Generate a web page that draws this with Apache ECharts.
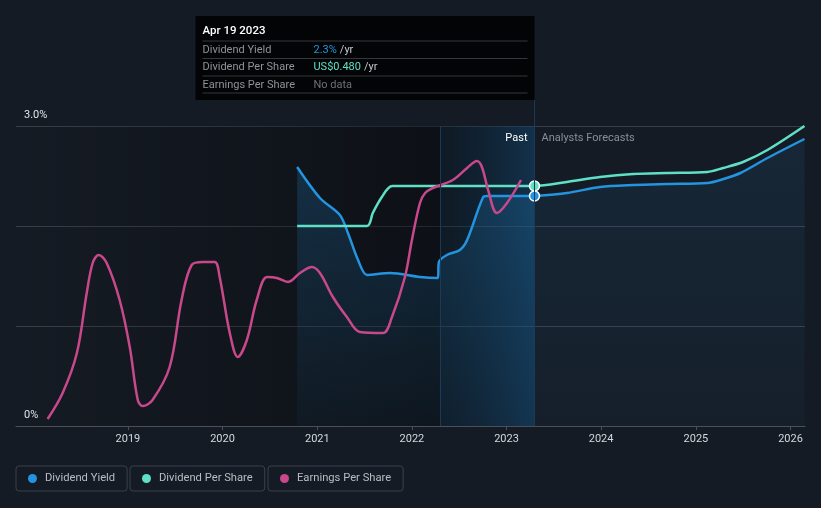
<!DOCTYPE html>
<html>
<head>
<meta charset="utf-8">
<script src="https://cdn.jsdelivr.net/npm/echarts@6/dist/echarts.min.js"></script>
<style>
  html, body { margin: 0; padding: 0; background: #151b24; }
  #chart { width: 821px; height: 508px; }
</style>
</head>
<body>
<div id="chart"></div>
<script>
// x range and markers
const xMin = '2017-10-26';
const xMax = '2026-02-26';
const todayDate = '2023-04-19';
const highlightStart = '2022-04-19';
const yearTicks = ['2019-01-01', '2020-01-01', '2021-01-01', '2022-01-01', '2023-01-01', '2024-01-01', '2025-01-01', '2026-01-01'];

// Dividend Yield (%), past
const dyPastDates = ['2020-10-15', '2021-01-11', '2021-03-29', '2021-04-29', '2021-06-07', '2021-07-12', '2021-10-09',
  '2022-02-01', '2022-04-11', '2022-04-15', '2022-05-16', '2022-07-05', '2022-08-02', '2022-10-03', '2022-10-18', '2023-04-19'];
const dyPastValues = [2.59, 2.28, 2.11, 1.93, 1.66, 1.51, 1.53, 1.49, 1.48, 1.64, 1.71, 1.76, 1.86, 2.29, 2.30, 2.30];

// Dividend Yield (%), analysts forecast
const dyFcDates = ['2023-04-19', '2023-08-22', '2023-12-28', '2024-05-04', '2024-09-12', '2025-02-14', '2025-04-05',
  '2025-06-22', '2025-10-04', '2026-02-24'];
const dyFcValues = [2.30, 2.33, 2.39, 2.41, 2.42, 2.43, 2.46, 2.53, 2.68, 2.87];

// Dividend Per Share (US$)
const dpsDates = ['2020-10-15', '2021-07-12', '2021-08-03', '2021-09-07', '2021-10-17', '2023-04-19', '2023-08-22',
  '2023-12-28', '2024-05-04', '2024-09-12', '2025-02-14', '2025-04-16', '2025-07-02', '2025-10-04', '2026-02-24'];
const dpsValues = [0.40, 0.40, 0.426, 0.458, 0.48, 0.48, 0.488, 0.498, 0.504, 0.506, 0.508, 0.516, 0.528, 0.552, 0.60];

// Earnings Per Share
const epsDates = ['2018-02-25', '2018-04-24', '2018-06-18', '2018-07-26', '2018-08-18', '2018-09-10', '2018-10-11',
  '2018-11-30', '2019-01-08', '2019-02-08', '2019-02-27', '2019-04-06', '2019-06-11', '2019-07-27', '2019-09-04',
  '2019-10-17', '2019-12-02', '2019-12-21', '2020-01-29', '2020-02-29', '2020-04-04', '2020-05-12', '2020-06-21',
  '2020-07-29', '2020-09-10', '2020-10-26', '2020-12-11', '2021-01-11', '2021-03-02', '2021-04-25', '2021-06-14',
  '2021-09-11', '2021-10-16', '2021-12-05', '2022-01-01', '2022-02-01', '2022-02-21', '2022-03-23', '2022-06-08',
  '2022-08-02', '2022-09-09', '2022-09-28', '2022-10-22', '2022-11-25', '2023-01-03', '2023-02-26'];
const epsValues = [0.07, 0.33, 0.73, 1.33, 1.63, 1.71, 1.63, 1.26, 0.79, 0.26, 0.20, 0.26, 0.59, 1.26, 1.61,
  1.64, 1.64, 1.49, 0.93, 0.69, 0.86, 1.26, 1.49, 1.48, 1.44, 1.53, 1.59, 1.53, 1.29, 1.09, 0.94,
  0.93, 1.09, 1.49, 1.86, 2.23, 2.33, 2.38, 2.46, 2.58, 2.65, 2.59, 2.36, 2.13, 2.23, 2.46];

const legendNames = ['Dividend Yield', 'Dividend Per Share', 'Earnings Per Share'];
const legendLefts = [16, 130, 268];
const colors = { dy: '#2394df', dps: '#5fe0c6', eps: '#c9488c' };

function pairs(dates, values) {
  return dates.map((d, i) => [d, values[i]]);
}
function withTodayDot(data, color) {
  return data.map(p => p[0] === todayDate
    ? { value: p, symbol: 'circle', symbolSize: 10, itemStyle: { color: color, borderColor: '#ffffff', borderWidth: 1.5 } }
    : p);
}

const chart = echarts.init(document.getElementById('chart'));

const option = {
  animation: false,
  backgroundColor: '#151b24',
  textStyle: { fontFamily: 'Roboto, sans-serif' },
  grid: { left: 16, right: 16, top: 126, bottom: 82 },
  legend: legendNames.map((name, i) => ({
    data: [name],
    left: legendLefts[i],
    top: 466,
    icon: 'circle',
    itemWidth: 9,
    itemHeight: 9,
    selectedMode: false,
    padding: [7, 12, 7, 12],
    borderColor: '#3b414b',
    borderWidth: 1,
    borderRadius: 3,
    textStyle: { color: '#b9bdc3', fontSize: 11.2, padding: [1, 0, 0, 3] }
  })),
  xAxis: {
    type: 'time',
    min: xMin,
    max: xMax,
    axisLine: { lineStyle: { color: '#4b5058' } },
    axisTick: { show: true, length: 4, lineStyle: { color: '#4b5058' }, customValues: yearTicks },
    axisLabel: { color: '#d5d8dc', fontSize: 11, margin: 8, formatter: '{yyyy}', customValues: yearTicks },
    splitLine: { show: false }
  },
  yAxis: [
    {
      type: 'value',
      min: 0,
      max: 3,
      interval: 1,
      axisLine: { show: false },
      axisTick: { show: false },
      splitLine: { lineStyle: { color: '#383d46', width: 1 } },
      axisLabel: {
        inside: true,
        margin: 8,
        color: '#e2e4e7',
        fontSize: 11,
        verticalAlign: 'bottom',
        padding: [0, 0, 5, 0],
        formatter: v => (v === 3 ? '3.0%' : v === 0 ? '0%' : '')
      }
    },
    { type: 'value', min: 0, max: 0.6, show: false },
    { type: 'value', min: 0, max: 3, show: false }
  ],
  series: [
    {
      // background shading: past / last year / forecast
      type: 'line',
      data: [],
      z: 1,
      silent: true,
      markArea: {
        silent: true,
        data: [
          [{
            xAxis: xMin,
            itemStyle: { color: { type: 'linear', x: 0, y: 0, x2: 1, y2: 0,
              colorStops: [{ offset: 0, color: 'rgba(0,0,0,0)' }, { offset: 1, color: 'rgba(0,0,0,0.38)' }] } }
          }, { xAxis: highlightStart }],
          [{
            xAxis: highlightStart,
            label: { show: true, position: 'insideTopRight', distance: 7, formatter: 'Past', color: '#ffffff', fontSize: 11 },
            itemStyle: { color: { type: 'linear', x: 0, y: 0, x2: 1, y2: 0,
              colorStops: [{ offset: 0, color: 'rgba(1,24,39,0.3)' }, { offset: 1, color: 'rgba(17,71,114,0.5)' }] } }
          }, { xAxis: todayDate }],
          [{
            xAxis: todayDate,
            label: { show: true, position: 'insideTopLeft', distance: 7, formatter: 'Analysts Forecasts', color: '#8a8f96', fontSize: 11 },
            itemStyle: { color: 'rgba(0,0,0,0)' }
          }, { xAxis: xMax }]
        ]
      },
      markLine: {
        silent: true,
        symbol: 'none',
        label: { show: false },
        lineStyle: { color: '#1c3a55', type: 'solid', width: 1 },
        data: [{ xAxis: highlightStart }, { xAxis: todayDate }]
      }
    },
    {
      name: 'Dividend Yield',
      type: 'line',
      z: 3,
      data: withTodayDot(pairs(dyPastDates, dyPastValues), colors.dy),
      symbol: 'none',
      smooth: 0.3,
      color: colors.dy,
      lineStyle: { width: 2.5, color: colors.dy },
      areaStyle: { color: { type: 'linear', x: 0, y: 0, x2: 0, y2: 1,
        colorStops: [{ offset: 0, color: 'rgba(35,148,223,0.3)' }, { offset: 1, color: 'rgba(35,148,223,0.06)' }] } }
    },
    {
      name: 'Dividend Yield',
      type: 'line',
      z: 2,
      data: pairs(dyFcDates, dyFcValues),
      symbol: 'none',
      smooth: 0.3,
      color: colors.dy,
      lineStyle: { width: 2.5, color: colors.dy },
      areaStyle: { color: { type: 'linear', x: 0, y: 0, x2: 0, y2: 1,
        colorStops: [{ offset: 0, color: 'rgba(35,148,223,0.14)' }, { offset: 1, color: 'rgba(35,148,223,0.05)' }] } }
    },
    {
      name: 'Dividend Per Share',
      type: 'line',
      z: 4,
      yAxisIndex: 1,
      data: withTodayDot(pairs(dpsDates, dpsValues), colors.dps),
      symbol: 'none',
      smooth: 0.3,
      color: colors.dps,
      lineStyle: { width: 2.5, color: colors.dps }
    },
    {
      name: 'Earnings Per Share',
      type: 'line',
      z: 4,
      yAxisIndex: 2,
      data: pairs(epsDates, epsValues),
      symbol: 'none',
      smooth: 0.35,
      color: colors.eps,
      lineStyle: { width: 2.5, color: colors.eps }
    }
  ]
};

chart.setOption(option);

// hover box at "today"
const px = chart.convertToPixel({ xAxisIndex: 0 }, todayDate);
const tipW = 339;
const tipL = px - tipW;
const dyNow = dyPastValues[dyPastDates.indexOf(todayDate)];
const dpsNow = dpsValues[dpsDates.indexOf(todayDate)];
const rows = [
  ['Dividend Yield', '{a|' + dyNow.toFixed(1) + '%} {u|/yr}'],
  ['Dividend Per Share', '{b|US$' + dpsNow.toFixed(3) + '} {u|/yr}'],
  ['Earnings Per Share', '{n|No data}']
];
const rich = {
  a: { fill: colors.dy, fontSize: 11, fontFamily: 'Roboto' },
  b: { fill: colors.dps, fontSize: 11, fontFamily: 'Roboto' },
  u: { fill: '#c5c8cc', fontSize: 11, fontFamily: 'Roboto' },
  n: { fill: '#6d7279', fontSize: 11, fontFamily: 'Roboto' }
};
const tip = [
  { type: 'line', shape: { x1: px, y1: 100, x2: px, y2: 126 }, style: { stroke: '#1c3a55', lineWidth: 1 } },
  { type: 'rect', shape: { x: tipL, y: 16, width: tipW, height: 84 }, style: { fill: '#030405' } },
  { type: 'text', x: tipL + 7, y: 31, style: { text: 'Apr 19 2023', fill: '#ffffff', fontSize: 11.5, fontWeight: 500, fontFamily: 'Roboto', verticalAlign: 'middle' } }
];
[41, 58.5, 76, 93].forEach(y => {
  tip.push({ type: 'line', shape: { x1: tipL + 7, y1: y, x2: tipL + 332, y2: y }, style: { stroke: '#34373c', lineWidth: 1 } });
});
rows.forEach((r, i) => {
  const y = 50 + i * 17.5;
  tip.push({ type: 'text', x: tipL + 7, y: y, style: { text: r[0], fill: '#8e939a', fontSize: 11, fontFamily: 'Roboto', verticalAlign: 'middle' } });
  tip.push({ type: 'text', x: tipL + 118, y: y, style: { text: r[1], rich: rich, fill: '#c5c8cc', fontSize: 11, verticalAlign: 'middle' } });
});
chart.setOption({ graphic: tip });

window.addEventListener('resize', function () {
  chart.resize();
});
</script>
</body>
</html>
